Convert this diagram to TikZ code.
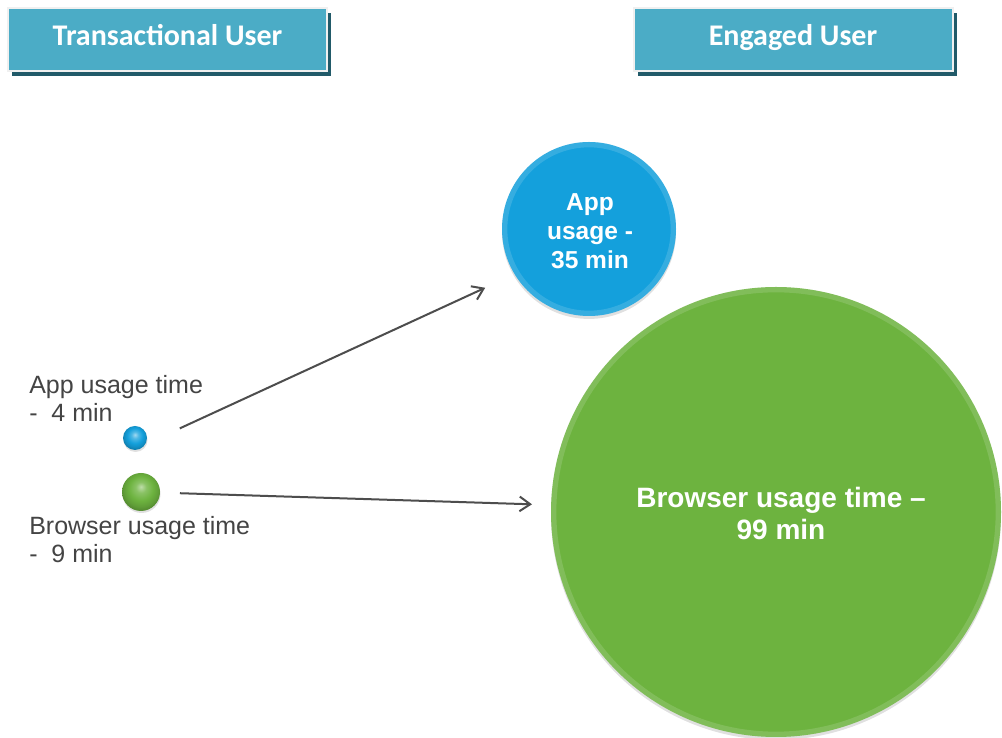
\documentclass[tikz,border=0pt]{standalone}
\usepackage{fontspec}
\setmainfont{Liberation Sans}
\newfontfamily\headfont{Carlito}
\usetikzlibrary{arrows.meta,shadows,calc}

\definecolor{headfill}{HTML}{4BACC6}
\definecolor{headedge}{HTML}{F0F0F0}
\definecolor{headshadow}{HTML}{215A69}
\definecolor{appblue}{HTML}{14A0DC}
\definecolor{webgreen}{HTML}{6DB33F}
\definecolor{labelgray}{HTML}{444444}
\definecolor{arrowgray}{HTML}{4D4D4D}

% glossy look for the small spheres
\pgfdeclareradialshading{bluesphere}{\pgfqpoint{0bp}{7bp}}{%
  color(0bp)=(appblue!40!white); color(7bp)=(appblue!75!white);
  color(16bp)=(appblue); color(23bp)=(appblue!88!black);
  color(26bp)=(appblue!80!black); color(50bp)=(appblue!80!black)}
\pgfdeclareradialshading{greensphere}{\pgfqpoint{0bp}{7bp}}{%
  color(0bp)=(webgreen!45!white); color(7bp)=(webgreen!80!white);
  color(16bp)=(webgreen); color(23bp)=(webgreen!88!black);
  color(26bp)=(webgreen!80!black); color(50bp)=(webgreen!80!black)}

\tikzset{
  headbox/.style={draw=headedge, line width=1.5pt, fill=headfill,
    minimum width=239.25pt, minimum height=47.25pt, inner sep=0pt,
    drop shadow={shadow xshift=3pt, shadow yshift=-3.75pt, fill=headshadow, opacity=1}},
  headtext/.style={inner sep=0pt, text height=14.5pt, text depth=0pt, text=white,
    font=\headfont\bfseries\fontsize{22.5}{27}\selectfont},
  sidelabel/.style={inner sep=0pt, align=left, text=labelgray,
    font=\fontsize{18.75}{21}\selectfont},
  bubbletext/.style={inner sep=0pt, align=center, text=white},
  smallball/.style={circle, inner sep=0pt,
    drop shadow={shadow xshift=0.4pt, shadow yshift=-1.5pt, fill=black, opacity=0.12}},
  bigbubble/.style={circle, inner sep=0pt,
    drop shadow={shadow xshift=0pt, shadow yshift=-2.2pt, fill=black, opacity=0.12}},
  rim/.style={line width=4pt, opacity=0.14},
  conn/.style={draw=arrowgray, line width=1.5pt, -{Straight Barb[length=8pt,width=11pt]}},
}

\begin{document}
\begin{tikzpicture}[x=0.75pt,y=0.75pt]
\useasboundingbox (0,0) rectangle (1002,738);
\fill[white] (0,0) rectangle (1002,738);

% column headers
\node[headbox] (hleft) at (167.5,698.5) {};
\node[headtext] (hlefttext) at ([yshift=2.6pt]hleft.center) {Transactional User};
\node[headbox] (hright) at (793,698.5) {};
\node[headtext] (hrighttext) at ([yshift=2.6pt]hright.center) {Engaged User};

% small bubbles: transactional user
\node[smallball, shading=bluesphere, minimum size=18pt] (sa) at (135,300) {};
\node[smallball, shading=greensphere, minimum size=28.5pt] (sg) at (141,246) {};
\node[sidelabel, anchor=west] (la) at (29,340) {App usage time\\-\ \ 4 min};
\node[sidelabel, anchor=west] (lg) at (29,198) {Browser usage time\\-\ \ 9 min};

% large bubbles: engaged user
\node[bigbubble, fill=appblue, minimum size=130.5pt] (ba) at (589,509) {};
\draw[rim, white] (ba.center) circle[radius=63.25pt];
\node[bubbletext, font=\bfseries\fontsize{18.4}{21.75}\selectfont] (bat) at (590,507) {App\\usage -\\35 min};
\node[bigbubble, fill=webgreen, minimum size=337.5pt] (bg) at (776,226) {};
\draw[rim, white] (bg.center) circle[radius=166.75pt];
\node[bubbletext, font=\bfseries\fontsize{21}{24}\selectfont] (bgt) at (781,225) {Browser usage time --\\99 min};

% connectors
\draw[conn, shorten <=37pt, shorten >=85.7pt] ([yshift=-8.25pt]sa.center) -- ([yshift=-8.25pt]ba.center);
\draw[conn, shorten <=29.25pt, shorten >=183.1pt] (sg.center) -- (bg.center);
\end{tikzpicture}
\end{document}
